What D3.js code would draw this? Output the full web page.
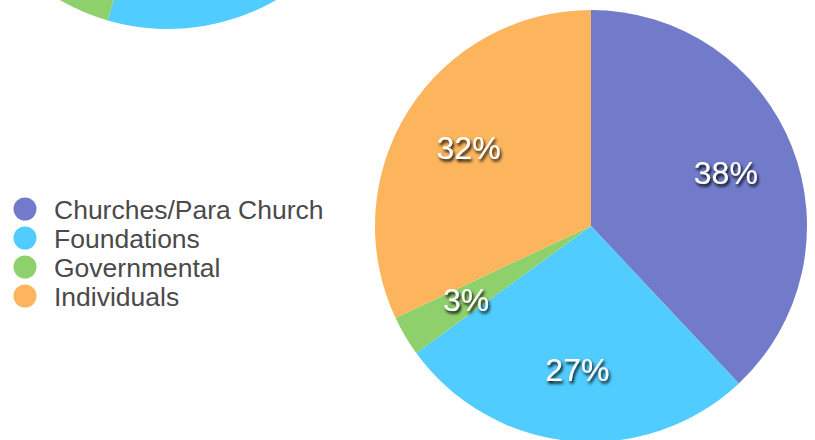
<!DOCTYPE html>
<html>
<head>
<meta charset="utf-8">
<script src="https://cdn.jsdelivr.net/npm/d3@7"></script>
<style>
  body { margin: 0; background: #fff; }
  svg { display: block; }
  .legend text { font-family: "Liberation Sans", Arial, sans-serif; font-size: 26.5px; fill: #4a4a4a; }
  .pct { font-family: "Liberation Sans", Arial, sans-serif; font-size: 32px; fill: #fff; }
</style>
</head>
<body>
<svg id="chart" width="815" height="440"></svg>
<script>
// categories and values (percent)
let categories = ["Churches/Para Church", "Foundations", "Governmental", "Individuals"];
let colors = ["#717bc9", "#50ccfe", "#8ed06b", "#fdb55d"];
let values = [38, 27, 3, 32];
// the pie above, mostly cut off by the top of the picture
let topValues = [31, 23.5, 6, 39.5];

let svg = d3.select("#chart");

// drop shadow for the percent labels
let defs = svg.append("defs");
defs.append("filter")
  .attr("id", "shadow")
  .attr("x", "-20%").attr("y", "-20%")
  .attr("width", "140%").attr("height", "150%")
  .append("feDropShadow")
  .attr("dx", 1.5)
  .attr("dy", 2.5)
  .attr("stdDeviation", 1.5)
  .attr("flood-color", "#000")
  .attr("flood-opacity", 1);

let color = d3.scaleOrdinal().domain(categories).range(colors);
let pie = d3.pie().sort(null).value(d => d.value);
let radius = 216;
let arc = d3.arc().innerRadius(0).outerRadius(radius);
let labelArc = d3.arc().innerRadius(145).outerRadius(145);

function drawPie(vals, cx, cy, withLabels) {
  let data = categories.map((c, i) => ({ name: c, value: vals[i] }));
  let g = svg.append("g").attr("transform", "translate(" + cx + "," + cy + ")");
  let slices = g.selectAll("g.slice").data(pie(data)).enter().append("g").attr("class", "slice");
  slices.append("path")
    .attr("d", arc)
    .attr("fill", d => color(d.data.name));
  if (withLabels) {
    g.selectAll("text").data(pie(data)).enter().append("text")
      .attr("class", "pct")
      .attr("transform", d => "translate(" + labelArc.centroid(d) + ")")
      .attr("text-anchor", "middle")
      .attr("dominant-baseline", "central")
      .attr("filter", "url(#shadow)")
      .text(d => d.data.value + "%");
  }
}

drawPie(topValues, 168, -187, false);
drawPie(values, 591, 226, true);

// legend
let legend = svg.append("g").attr("class", "legend").attr("transform", "translate(25,209)");
let items = legend.selectAll("g").data(categories).enter().append("g")
  .attr("transform", (d, i) => "translate(0," + i * 29 + ")");
items.append("circle")
  .attr("r", 11.5)
  .attr("fill", d => color(d));
items.append("text")
  .attr("x", 29)
  .attr("dy", "0.36em")
  .text(d => d);
</script>
</body>
</html>
